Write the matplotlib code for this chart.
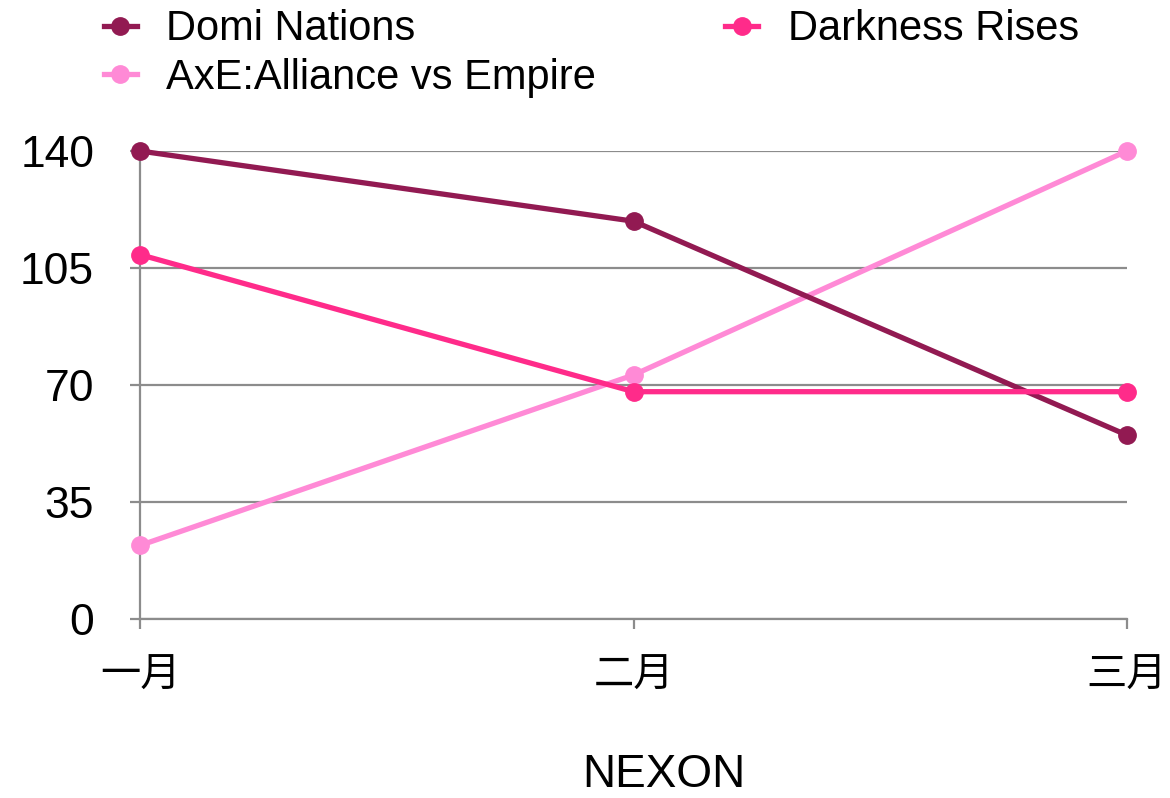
import matplotlib
matplotlib.use("Agg")
import matplotlib.pyplot as plt

plt.rcParams['font.family'] = ['Liberation Sans', 'Noto Sans CJK SC', 'DejaVu Sans']

months = ["一月", "二月", "三月"]
domi = [140, 119, 55]
darkness = [109, 68, 68]
axe = [22, 73, 140]
y_ticks = [0, 35, 70, 105, 140]

fig = plt.figure(figsize=(11.7, 7.98), dpi=100)
ax = fig.add_axes([140 / 1170, 1 - 619 / 798, (1127 - 140) / 1170, (619 - 151) / 798])

x = list(range(len(months)))
grid_col = "#8c8c8c"

l1, = ax.plot(x, domi, color="#921a52", lw=3.8, marker="o", ms=12.5, label="Domi Nations", clip_on=False, zorder=4)
l3, = ax.plot(x, axe, color="#ff8ad6", lw=3.8, marker="o", ms=12.5, label="AxE:Alliance vs Empire", clip_on=False, zorder=3)
l2, = ax.plot(x, darkness, color="#ff2b8a", lw=3.8, marker="o", ms=12.5, label="Darkness Rises", clip_on=False, zorder=5)

ax.set_xlim(0, 2)
ax.set_ylim(0, 140)
ax.set_xticks(x)
ax.set_xticklabels(months, fontsize=29)
ax.set_yticks(y_ticks)
ax.set_yticklabels([str(v) for v in y_ticks], fontsize=32)
ax.yaxis.grid(True, color=grid_col, lw=1.6)
ax.set_axisbelow(True)

for s in ["top", "right"]:
    ax.spines[s].set_visible(False)
for s in ["left", "bottom"]:
    ax.spines[s].set_color(grid_col)
    ax.spines[s].set_linewidth(1.6)
ax.tick_params(axis="both", color=grid_col, width=1.6, length=7)
ax.tick_params(axis="y", pad=26)
ax.tick_params(axis="x", pad=20)

ax.set_xlabel("NEXON", fontsize=33)
ax.xaxis.set_label_coords((664 - 140) / (1127 - 140), -(775 - 619) / (619 - 151))
ax.xaxis.label.set_verticalalignment("center")

fig.legend(handles=[l1, l3, l2], loc="upper left", ncol=2, bbox_to_anchor=(0.06, 1.03),
           frameon=False, fontsize=30, handlelength=0.8, handletextpad=0.7,
           columnspacing=3.1, labelspacing=0.2, borderpad=0.3)

fig.savefig("out.png", dpi=100)
